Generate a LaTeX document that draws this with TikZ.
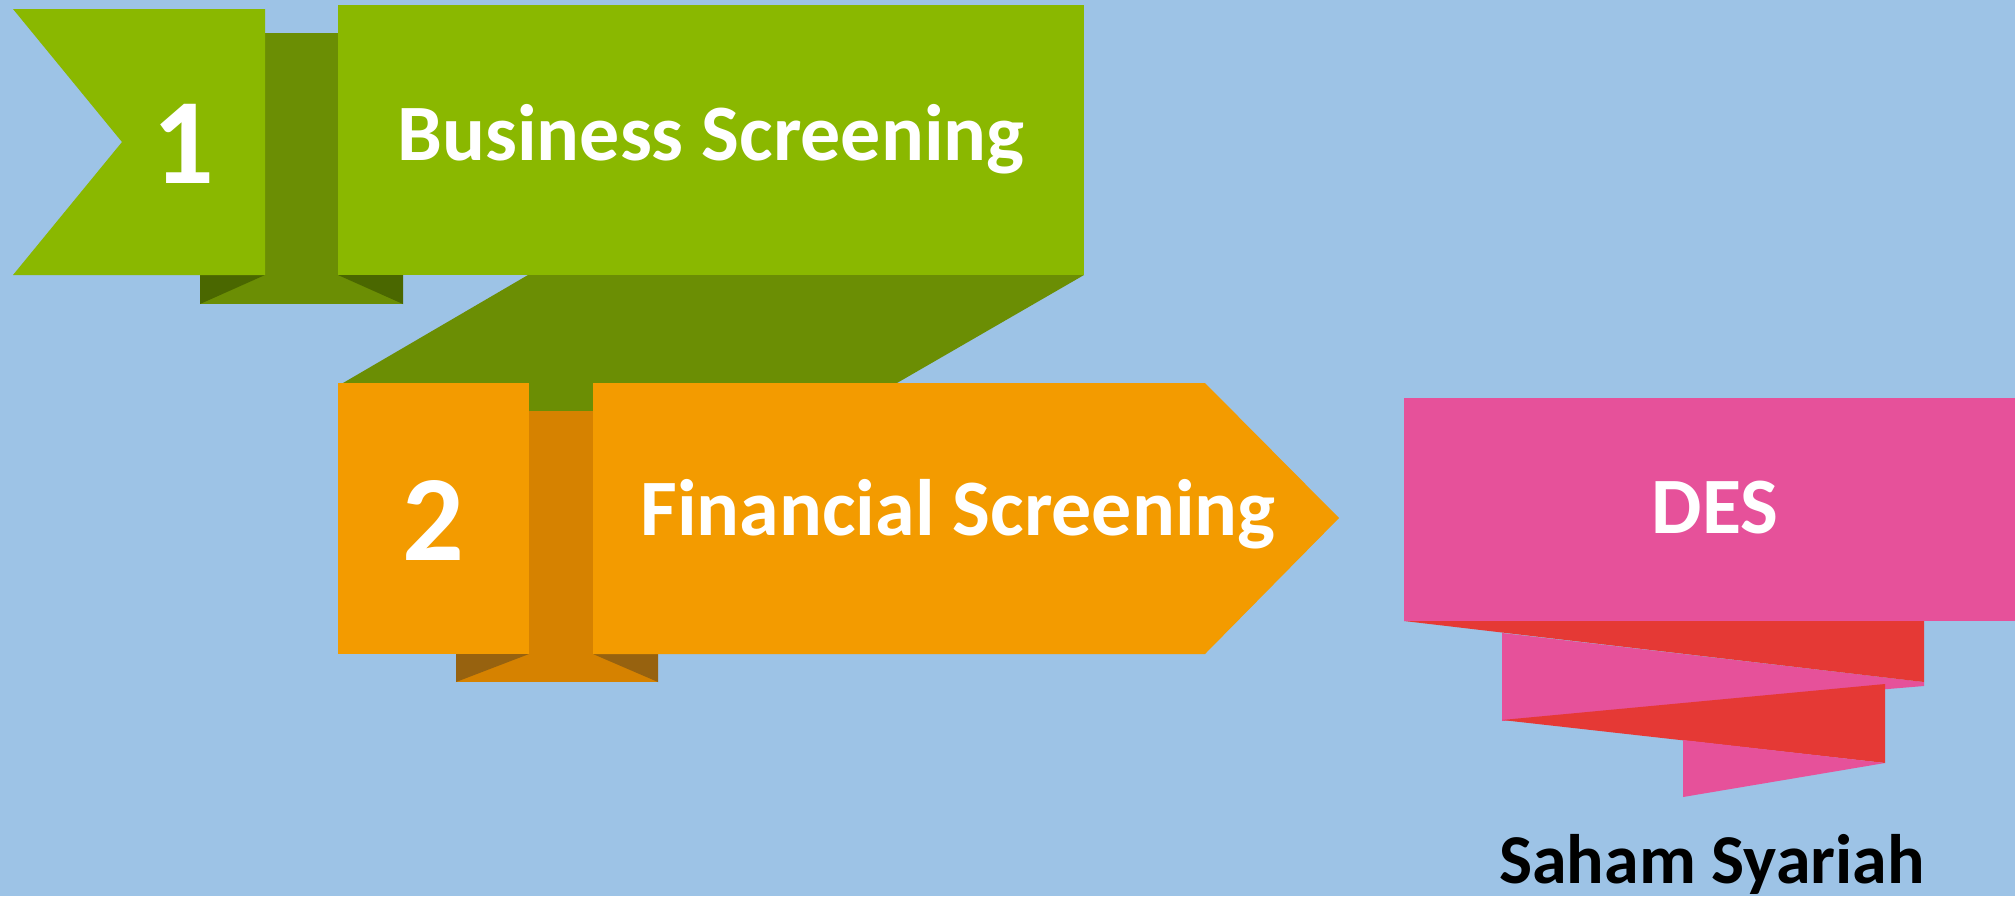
\documentclass[tikz,border=0pt]{standalone}
\usepackage{fontspec}
\setmainfont{Carlito}
\usepackage{tikz}
\usetikzlibrary{positioning}

\definecolor{bgblue}{HTML}{9DC3E6}
\definecolor{lgreen}{HTML}{8AB800}
\definecolor{mgreen}{HTML}{6B8E04}
\definecolor{dgreen}{HTML}{4A6700}
\definecolor{lorange}{HTML}{F39B00}
\definecolor{morange}{HTML}{D68200}
\definecolor{dorange}{HTML}{97620F}
\definecolor{pinkr}{HTML}{E6519A}
\definecolor{redr}{HTML}{E53935}

\begin{document}
\begin{tikzpicture}
            [x=0.5pt,y=-0.5pt,every node/.style={anchor=base, inner sep=0pt, text=white},
             ribbontext/.style={font=\fontsize{40}{40}\selectfont\bfseries},
             ribbonnum/.style={font=\fontsize{61}{61}\selectfont\bfseries},
             captext/.style={font=\fontsize{35}{35}\selectfont\bfseries, text=black}]
          \fill[bgblue] (0,0) rectangle (2015,896);

          % green ribbon
          \fill[mgreen] (200,275) rectangle (403,304);
          \foreach \a/\b/\c in {200/265/200, 338/403/403}
            \fill[dgreen] (\a,275) -- (\b,275) -- (\c,304) -- cycle;
          \fill[mgreen] (265,33) rectangle (338,275);
          \fill[mgreen] (528,275) -- (1084,275) -- (897,383) -- (343,383) -- cycle;
          \fill[mgreen] (529,383) rectangle (593,411);

          % orange ribbon
          \fill[morange] (529,411) rectangle (593,654);
          \fill[morange] (456,654) rectangle (658,682);
          \foreach \a/\b/\c in {456/529/456, 593/658/658}
            \fill[dorange] (\a,654) -- (\b,654) -- (\c,682) -- cycle;

          \fill[lgreen] (13,9) -- (265,9) -- (265,275) -- (13,275) -- (122,142) -- cycle;
          \fill[lgreen] (338,5) rectangle (1084,275);
          \fill[lorange] (338,383) rectangle (529,654);
          \fill[lorange] (593,383) -- (1205,383) -- (1339,518) -- (1205,654) -- (593,654) -- cycle;

          % pink ribbon
          \fill[pinkr] (1502,633) -- (1924,682) -- (1924,686) -- (1502,721) -- cycle;
          \fill[redr] (1404,621) -- (1924,621) -- (1924,682) -- cycle;
          \fill[redr] (1502,720) -- (1885,684) -- (1885,763) -- cycle;
          \fill[pinkr] (1683,740) -- (1885,763) -- (1683,797) -- cycle;
          \fill[pinkr] (1404,398) rectangle (2015,621);

          \node[ribbonnum] (n1) at (183,183) {1};
          \node[ribbontext] (bs) at (711,160) {Business Screening};
          \node[ribbonnum] (n2) at (433,560) {2};
          \node[ribbontext] (fs) at (958,535) {Financial Screening};
          \node[ribbontext] (des) at (1715,533) {DES};
          \node[captext] (saham) at (1712,883) {Saham Syariah};
        \end{tikzpicture}
\end{document}
